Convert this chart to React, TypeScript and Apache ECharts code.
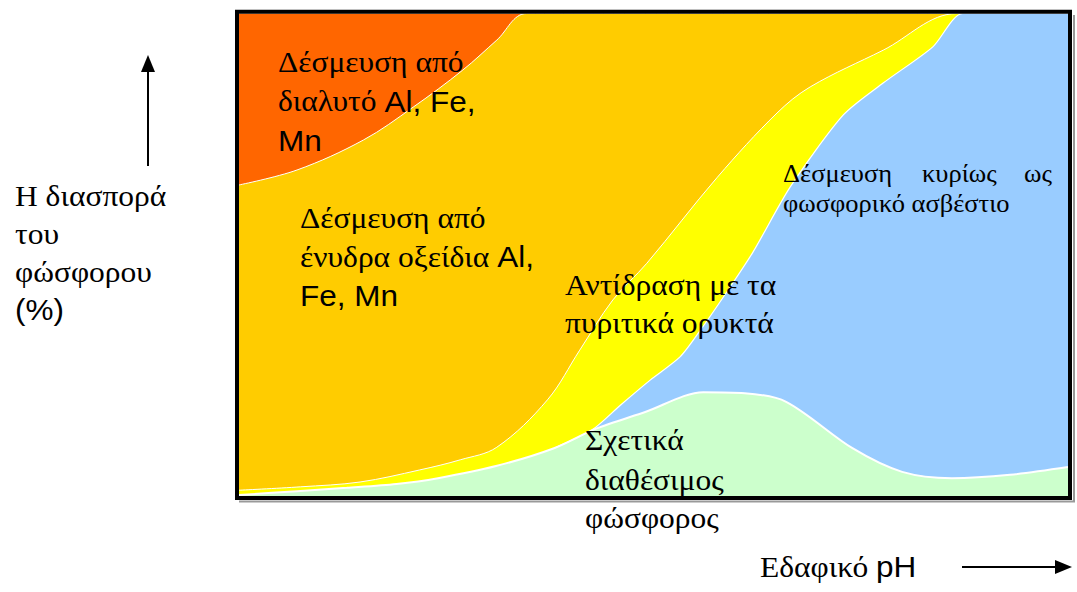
import React, { useEffect, useRef } from "react";
import * as echarts from "echarts";

// x: soil pH (relative scale 0-100), y: cumulative share of phosphorus (%)
const orangeTop: number[][] = [[0, 100], [100, 100]];
const goldTop: number[][] = [
  [0, 64.5], [7, 67.6], [15, 73.8], [21, 80.6], [27, 88.3], [31.1, 94.5], [34.7, 100], [100, 100],
];
const yellowTop: number[][] = [
  [0, 1.3], [7.4, 2.0], [14.6, 3.0], [21.8, 5.5], [26.7, 7.6], [31.1, 10.2], [37.2, 20.0],
  [41.1, 30.3], [45.1, 40.7], [49.2, 48.3], [57.7, 66.1], [64.9, 79.4], [68.9, 84.8],
  [77.7, 92.4], [86.6, 100], [100, 100],
];
const blueTop: number[][] = [
  [38, 10], [42.6, 13.8], [46, 18.9], [49.6, 24.1], [53.2, 28.9], [55.6, 34.3], [58.9, 42.5],
  [62, 50.6], [66.5, 64.1], [72.9, 79.0], [77.7, 85.6], [83.7, 93.1], [87.3, 100], [100, 100],
];
const greenTop: number[][] = [
  [0, 0.3], [7, 1.1], [13, 1.8], [19, 2.6], [24, 3.8], [31, 6.3], [38, 10], [43, 14],
  [49, 17.5], [56, 21.6], [61, 21.4], [66, 19.6], [74, 10], [80, 5.1], [86, 3.8], [93, 4.5], [100, 6.1],
];

const serif = "Liberation Serif, Times New Roman, DejaVu Serif, serif";
const sans = "Liberation Sans, Arial, sans-serif";
const SX = 1.05;

function area(name: string, data: number[][], color: string, lineW: number, smooth: number) {
  return {
    type: "line",
    name,
    data,
    smooth,
    symbol: "none",
    showSymbol: false,
    silent: true,
    lineStyle: { color: "#ffffff", width: lineW, opacity: lineW > 0 ? 1 : 0 },
    areaStyle: { color, opacity: 1, origin: "start" },
  };
}

function txt(x: number, y: number, text: string, size = 30, family = serif, align = "left", sx = SX) {
  return {
    type: "text",
    z: 110,
    x,
    y,
    scaleX: sx,
    style: {
      text,
      font: `${size}px ${family}`,
      fill: "#000",
      textAlign: align,
      verticalAlign: "middle",
      textVerticalAlign: "middle",
    },
  };
}

function rich(x: number, y: number, text: string, size = 30) {
  return {
    type: "text",
    z: 110,
    x,
    y,
    scaleX: SX,
    style: {
      text,
      fill: "#000",
      font: `${size}px ${serif}`,
      textAlign: "left",
      verticalAlign: "middle",
      textVerticalAlign: "middle",
      rich: {
        g: { font: `${size}px ${serif}`, fill: "#000" },
        s: { font: `${size}px ${sans}`, fill: "#000" },
      },
    },
  };
}

export default function App() {
  const ref = useRef<HTMLDivElement>(null);
  useEffect(() => {
    if (!ref.current) return;
    const chart = echarts.init(ref.current, null, { renderer: "svg" });
    chart.setOption({
      animation: false,
      backgroundColor: "#ffffff",
      grid: { left: 239, top: 13.5, width: 829, height: 483 },
      xAxis: { type: "value", min: 0, max: 100, show: false },
      yAxis: { type: "value", min: 0, max: 100, show: false },
      series: [
        area("Δέσμευση από διαλυτό Al, Fe, Mn", orangeTop, "#FF6600", 0, 0),
        area("Δέσμευση από ένυδρα οξείδια Al, Fe, Mn", goldTop, "#FFCC00", 1, 0.35),
        area("Αντίδραση με τα πυριτικά ορυκτά", yellowTop, "#FFFF00", 1, 0.35),
        area("Δέσμευση κυρίως ως φωσφορικό ασβέστιο", blueTop, "#99CCFF", 1.2, 0.25),
        area("Σχετικά διαθέσιμος φώσφορος", greenTop, "#CCFFCC", 2, 0.3),
      ],
      graphic: [
        {
          type: "polyline",
          z: 99,
          shape: { points: [[1074, 15], [1074, 501.5], [239, 501.5]] },
          style: { stroke: "#999999", lineWidth: 2, fill: null },
        },
        {
          type: "rect",
          z: 100,
          shape: { x: 237, y: 11.7, width: 833, height: 486.3 },
          style: { fill: null, stroke: "#000000", lineWidth: 4 },
        },
        // y arrow
        { type: "line", z: 100, shape: { x1: 148, y1: 166, x2: 148, y2: 70 }, style: { stroke: "#000", lineWidth: 2 } },
        { type: "polygon", z: 100, shape: { points: [[141, 72], [155, 72], [148, 55]] }, style: { fill: "#000" } },
        // x arrow
        { type: "line", z: 100, shape: { x1: 962, y1: 567, x2: 1057, y2: 567 }, style: { stroke: "#000", lineWidth: 2 } },
        { type: "polygon", z: 100, shape: { points: [[1055, 560], [1055, 574], [1072, 567]] }, style: { fill: "#000" } },

        txt(278, 62.3, "Δέσμευση από"),
        rich(278, 101.3, "{g|διαλυτό }{s|Al, Fe,}"),
        txt(278, 140.3, "Mn", 30, sans),

        txt(300, 218.3, "Δέσμευση από"),
        rich(300, 256.8, "{g|ένυδρα οξείδια }{s|Al,}"),
        txt(300, 295.3, "Fe, Mn", 30, sans),

        txt(565, 284.8, "Αντίδραση με τα"),
        txt(565, 322.8, "πυριτικά ορυκτά"),

        txt(783, 173.5, "Δέσμευση", 25, serif, "left", 1.06),
        txt(922, 173.5, "κυρίως", 25, serif, "left", 1.06),
        txt(1052, 173.5, "ως", 25, serif, "right", 1.06),
        txt(783, 203.5, "φωσφορικό ασβέστιο", 25, serif, "left", 1.06),

        txt(585, 439.8, "Σχετικά"),
        txt(585, 479.8, "διαθέσιμος"),
        txt(585, 517.8, "φώσφορος"),

        txt(15, 196.5, "Η διασπορά"),
        txt(15, 234.3, "του"),
        txt(15, 272.1, "φώσφορου"),
        txt(15, 309.3, "(%)", 30, sans),

        rich(760, 566.8, "{g|Εδαφικό }{s|pH}"),
      ],
    });
    return () => chart.dispose();
  }, []);
  return (
    <div
      ref={ref}
      style={{ position: "fixed", left: 0, top: 0, width: 1077, height: 592, background: "#fff" }}
    />
  );
}
